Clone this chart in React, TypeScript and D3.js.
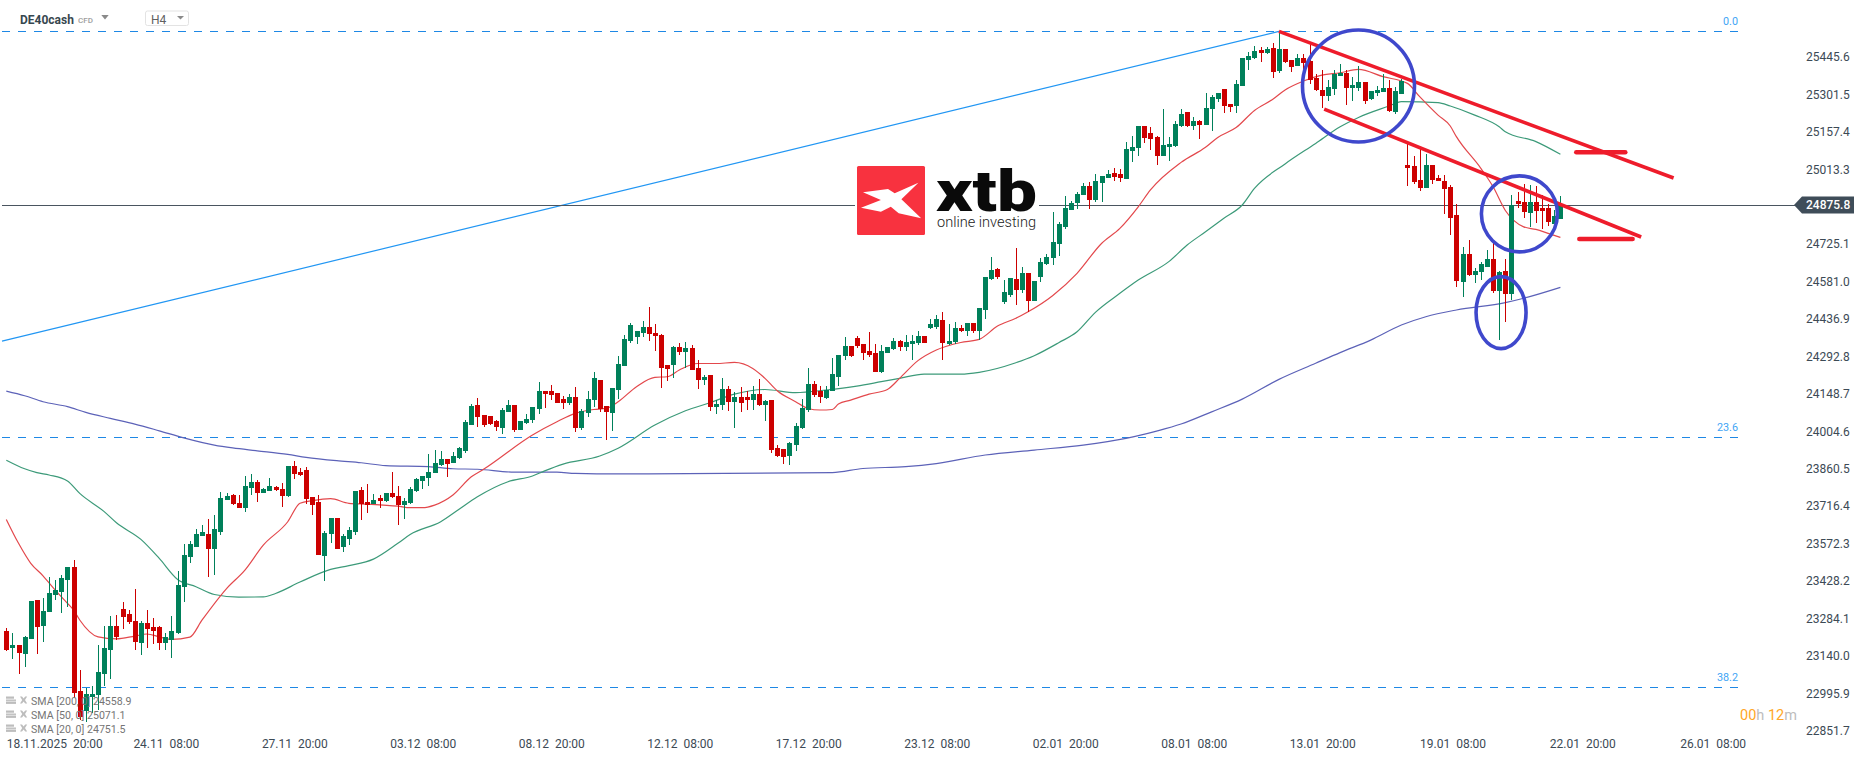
import * as d3 from "d3";
import * as React from "react";

const WIDTH = 1866;
const HEIGHT = 761;

const FONT = "Roboto, sans-serif";
const UP = "#00805a";
const DOWN = "#cc0000";
const FIB_BLUE = "#1e88e5";
const TEXT = "#3c4a55";

// H4 candles
const opens = [
  23236,23172,23182,23148,23205,23356,23256,23309,23375,23386,
  23433,23483,23005,22928,22982,22990,23071,23163,23256,23321,
  23302,23275,23190,23267,23252,23252,23190,23202,23229,23406,
  23521,23560,23602,23610,23552,23617,23741,23760,23729,23710,
  23787,23810,23767,23775,23791,23783,23756,23871,23848,23856,
  23752,23733,23525,23610,23671,23560,23590,23617,23779,23733,
  23725,23748,23737,23767,23756,23721,23729,23775,23814,23825,
  23844,23875,23898,23883,23902,23929,24029,24106,24068,24064,
  24045,24018,24079,24106,24010,24037,24048,24091,24160,24160,
  24152,24129,24114,24137,24018,24075,24125,24202,24102,24075,
  24164,24256,24352,24368,24383,24406,24383,24376,24260,24260,
  24329,24310,24326,24249,24202,24222,24098,24106,24168,24118,
  24137,24137,24125,24148,24106,24125,23941,23937,23910,23952,
  24018,24087,24187,24160,24133,24160,24214,24295,24333,24364,
  24341,24314,24306,24233,24306,24322,24352,24329,24341,24345,
  24372,24402,24406,24433,24341,24349,24402,24391,24422,24391,
  24472,24591,24630,24502,24529,24591,24549,24614,24506,24599,
  24649,24672,24726,24791,24857,24884,24914,24949,24895,24961,
  24980,24999,24995,24976,25084,25095,25180,25153,25138,25065,
  25099,25103,25180,25234,25180,25199,25184,25245,25284,25322,
  25265,25257,25334,25434,25442,25473,25461,25480,25392,25476,
  25434,25411,25442,25430,25365,25319,25295,25322,25372,25384,
  25326,25326,25349,25284,25307,25311,25326,25234,25303,25030,
  25026,24972,24941,25030,24980,24968,24945,24837,24580,24687,
  24606,24618,24637,24668,24545,24622,24533,24891,24887,24845,
  24887,24864,24864,24803,24822,
];

const closes = [
  23163,23182,23152,23213,23352,23252,23313,23383,23394,23440,
  23483,22998,22904,22994,22994,23079,23171,23256,23213,23290,
  23271,23194,23267,23244,23236,23190,23213,23236,23413,23529,
  23571,23610,23617,23552,23629,23748,23756,23725,23710,23794,
  23810,23767,23783,23794,23779,23756,23871,23841,23837,23744,
  23721,23529,23613,23671,23552,23602,23625,23775,23725,23723,
  23741,23737,23767,23752,23721,23737,23783,23821,23833,23848,
  23883,23898,23879,23910,23941,24041,24102,24060,24029,24033,
  24021,24087,24106,24010,24045,24052,24098,24160,24148,24145,
  24114,24114,24137,24018,24083,24129,24210,24091,24079,24172,
  24264,24360,24414,24391,24406,24379,24372,24249,24245,24329,
  24310,24326,24241,24202,24214,24098,24110,24168,24118,24137,
  24114,24125,24148,24106,24121,23933,23910,23906,23960,24025,
  24094,24187,24145,24137,24164,24225,24299,24333,24295,24333,
  24306,24299,24233,24314,24329,24352,24329,24349,24352,24372,
  24345,24418,24437,24345,24352,24402,24391,24422,24391,24479,
  24599,24626,24599,24541,24595,24549,24614,24506,24583,24656,
  24676,24733,24803,24864,24884,24918,24949,24895,24968,24988,
  24995,24984,24980,25091,25099,25180,25134,25130,25065,25107,
  25111,25188,25226,25180,25199,25184,25249,25292,25307,25257,
  25253,25342,25442,25449,25469,25461,25476,25388,25476,25426,
  25407,25442,25422,25357,25319,25295,25330,25380,25384,25326,
  25338,25349,25276,25315,25319,25326,25238,25315,25353,25018,
  24964,24941,25030,24972,24968,24937,24826,24583,24687,24606,
  24622,24649,24668,24545,24618,24533,24876,24880,24849,24887,
  24853,24853,24810,24834,24876,
];

const highs = [
  23250,23227,23182,23218,23352,23356,23362,23445,23433,23452,
  23484,23510,23086,23016,23025,23182,23256,23294,23298,23348,
  23317,23398,23275,23317,23286,23256,23227,23294,23467,23571,
  23581,23629,23644,23666,23683,23771,23769,23764,23760,23833,
  23841,23818,23786,23825,23794,23806,23871,23891,23864,23867,
  23752,23760,23621,23671,23671,23610,23637,23775,23789,23802,
  23764,23760,23767,23848,23794,23747,23791,23825,23833,23918,
  23933,23929,23898,23925,23945,24048,24110,24133,24068,24064,
  24048,24095,24125,24106,24045,24072,24098,24195,24160,24183,
  24152,24141,24148,24175,24091,24160,24233,24202,24102,24172,
  24295,24376,24422,24391,24429,24483,24418,24379,24260,24333,
  24345,24349,24337,24279,24222,24222,24125,24210,24179,24156,
  24175,24160,24179,24206,24125,24125,23952,23937,23964,24037,
  24129,24248,24198,24179,24179,24287,24299,24368,24333,24372,
  24341,24387,24341,24337,24329,24364,24356,24375,24375,24391,
  24372,24437,24452,24464,24418,24425,24414,24422,24422,24479,
  24599,24676,24633,24587,24595,24710,24637,24614,24583,24672,
  24687,24849,24810,24911,24891,24926,24961,24964,24995,24988,
  25011,25018,25014,25118,25142,25180,25180,25176,25142,25245,
  25138,25199,25245,25234,25215,25203,25307,25299,25307,25322,
  25265,25357,25442,25465,25488,25484,25484,25499,25542,25476,
  25434,25457,25457,25496,25380,25396,25357,25396,25419,25396,
  25369,25411,25349,25315,25334,25380,25357,25330,25361,25114,
  25065,25091,25072,25030,24991,24991,24953,24880,24714,24741,
  24633,24656,24703,24728,24622,24668,24914,24926,24957,24953,
  24949,24914,24880,24857,24911,
];

const lows = [
  23159,23130,23071,23098,23205,23148,23194,23309,23356,23307,
  23330,22977,22894,22887,22922,22932,23025,23052,23202,23244,
  23263,23163,23144,23170,23186,23163,23163,23134,23225,23348,
  23498,23560,23601,23444,23452,23606,23741,23721,23710,23694,
  23760,23733,23767,23775,23775,23714,23751,23821,23833,23725,
  23683,23529,23429,23575,23552,23540,23567,23606,23664,23690,
  23725,23710,23733,23748,23644,23667,23725,23771,23783,23794,
  23844,23871,23829,23882,23898,23921,24029,24021,24021,24029,
  24006,23995,24079,24002,24010,24033,24037,24072,24095,24125,
  24114,24091,24106,24002,24010,24060,24098,24079,23971,24006,
  24129,24256,24345,24341,24368,24352,24314,24172,24199,24210,
  24299,24249,24241,24168,24183,24083,24072,24087,24084,24019,
  24080,24087,24087,24102,24044,23923,23906,23879,23875,23929,
  24014,24079,24137,24114,24129,24160,24179,24279,24291,24325,
  24279,24291,24233,24229,24306,24318,24314,24314,24279,24337,
  24345,24398,24398,24279,24337,24341,24387,24372,24383,24356,
  24437,24587,24591,24495,24522,24491,24537,24464,24506,24580,
  24645,24645,24680,24784,24857,24860,24914,24860,24887,24887,
  24980,24968,24964,24976,25041,25065,25115,25088,25030,25065,
  25045,25099,25176,25176,25165,25130,25184,25161,25272,25230,
  25234,25230,25334,25396,25438,25426,25457,25365,25384,25422,
  25388,25411,25396,25342,25315,25249,25276,25299,25372,25261,
  25276,25315,25265,25280,25295,25311,25234,25226,25303,24949,
  24957,24930,24941,24957,24968,24841,24760,24560,24522,24603,
  24576,24587,24637,24537,24356,24425,24510,24864,24826,24791,
  24807,24784,24795,24803,24822,
];

// moving averages, sampled where the line bends: candle number, then level
const sma20At = [0,2,4,6,8,10,11,12,15,18,21,23,25,27,30,32,36,39,42,46,48,50,53,56,59,64,66,68,70,73,76,78,86,90,93,96,98,100,103,106,108,110,113,116,119,122,124,126,129,131,133,135,136,138,141,144,146,149,152,156,159,162,165,167,171,175,179,182,185,187,192,196,198,201,204,207,209,212,215,218,221,225,229,231,234,236,237,241,243,245,248,250,252,254];
const sma20 = [23666,23574,23497,23449,23394,23343,23317,23279,23214,23206,23217,23225,23214,23204,23213,23279,23400,23471,23567,23657,23728,23738,23746,23728,23725,23717,23711,23711,23721,23760,23830,23859,23991,24042,24074,24089,24093,24119,24177,24213,24215,24241,24266,24266,24270,24247,24209,24161,24119,24093,24087,24089,24110,24125,24148,24166,24209,24277,24318,24347,24359,24410,24440,24465,24527,24613,24728,24786,24869,24934,25040,25098,25136,25174,25240,25283,25319,25353,25376,25385,25398,25370,25344,25293,25222,25180,25139,25017,24946,24855,24792,24782,24767,24751.5];

const sma50At = [0,3,5,7,10,12,16,18,22,25,28,31,34,38,42,44,48,53,56,60,64,66,71,74,77,82,86,88,91,97,100,106,111,115,119,124,129,134,139,143,146,150,156,159,165,168,172,175,178,182,185,190,193,196,199,202,204,209,214,218,221,226,228,234,236,240,244,245,250,254];
const sma50 = [23894,23861,23846,23837,23814,23766,23696,23653,23589,23516,23435,23407,23377,23367,23368,23381,23425,23474,23488,23513,23574,23608,23657,23705,23753,23811,23833,23853,23879,23910,23940,24029,24084,24115,24148,24166,24154,24164,24179,24196,24209,24225,24225,24232,24269,24296,24346,24388,24463,24536,24587,24658,24722,24773,24825,24876,24940,25034,25113,25177,25213,25257,25274,25270,25257,25222,25177,25158,25120,25071.1];

const sma200At = [0,3,6,10,13,17,21,25,29,34,37,41,46,49,54,58,62,69,73,77,83,90,93,100,135,140,147,152,160,168,176,183,188,192,197,202,208,214,218,223,228,232,237,245,248,254];
const sma200 = [24160,24142,24119,24100,24078,24055,24033,24007,23980,23952,23941,23930,23916,23905,23892,23884,23873,23869,23861,23859,23848,23848,23843,23841,23846,23862,23869,23881,23914,23933,23952,23978,24006,24033,24080,24129,24205,24267,24308,24356,24414,24446,24472,24500,24517,24558.9];

const priceTicks = ["25445.6","25301.5","25157.4","25013.3","24725.1","24581.0","24436.9","24292.8","24148.7","24004.6","23860.5","23716.4","23572.3","23428.2","23284.1","23140.0","22995.9","22851.7"];

const timeTickAt = [26,47,68,89,110,131,152,173,194,215,236.3,257.5,278.8];
const timeLabels = ["24.11  08:00","27.11  20:00","03.12  08:00","08.12  20:00","12.12  08:00","17.12  20:00","23.12  08:00","02.01  20:00","08.01  08:00","13.01  20:00","19.01  08:00","22.01  20:00","26.01  08:00"];

const fibLabels = ["0.0","23.6","38.2"];
const fibLevels = [25543.7,23981.8,23019.6];

const LAST_PRICE = 24875.8;
const legendRows = ["SMA [200, 0] 24558.9","SMA [50, 0] 25071.1","SMA [20, 0] 24751.5"];

// x runs in candle numbers, y in index points
const xScale = d3.scaleLinear().domain([0, 254]).range([6.3, 1560.4]);
const yScale = d3.scaleLinear().domain([25445.6, 22851.7]).range([57, 731]);

// drawings on the chart: [candle, price] pairs
const fibDiagonal = [[-0.7, 24352],[208, 25544]];
const trendLines = [
  [[208, 25544],[272.5, 24980]],
  [[215.4, 25245],[267.2, 24753]],
  [[256.6, 25079],[264.6, 25079]],
  [[257.1, 24745],[265.8, 24745]],
];
const circles = [
  { at: 221, price: 25334, rx: 56, ry: 56 },
  { at: 247.3, price: 24842, rx: 38, ry: 38 },
  { at: 244.3, price: 24462, rx: 25, ry: 36 },
];

function smaPath(at: number[], values: number[]) {
  const line = d3
    .line<number>()
    .x((d) => xScale(d))
    .y((_, i) => yScale(values[i]))
    .curve(d3.curveMonotoneX);
  return line(at) || "";
}

function Candles() {
  return (
    <g shapeRendering="crispEdges">
      {opens.map((open, i) => {
        const close = closes[i];
        const color = close >= open ? UP : DOWN;
        const x = Math.round(xScale(i));
        const top = yScale(Math.max(open, close));
        const bottom = yScale(Math.min(open, close));
        return (
          <g key={i} fill={color}>
            <rect x={x} y={yScale(highs[i])} width={1} height={yScale(lows[i]) - yScale(highs[i])} />
            <rect x={x - 2} y={top} width={5} height={Math.max(1, bottom - top)} />
          </g>
        );
      })}
    </g>
  );
}

function Logo() {
  return (
    <g>
      <rect x={855} y={164} width={184} height={74} fill="#fff" />
      <rect x={857} y={166} width={68} height={69} rx={1.5} fill="#f8323f" />
      <polygon
        fill="#fff"
        points="863,192.3 888,189 894.7,193.3 918.4,182.7 901.4,199.3 921.2,218.3 898.7,213.3 890.8,206.7 880.9,211.7 861,207.7 880.9,200"
      />
      <text x={936} y={211} fontFamily={FONT} fontWeight={900} fontSize={57} fill="#0a0a0a" textLength={101} lengthAdjust="spacingAndGlyphs">
        xtb
      </text>
      <text x={937} y={227} fontFamily={FONT} fontWeight={300} fontSize={15} fill="#222" textLength={99} lengthAdjust="spacingAndGlyphs">
        online investing
      </text>
    </g>
  );
}

function LegendIcon({ y }: { y: number }) {
  return (
    <g fill="#bdbdbd">
      <rect x={6} y={y - 5} width={8} height={2.2} />
      <rect x={6} y={y - 2} width={10} height={1.4} />
      <rect x={6} y={y} width={10} height={2.4} />
      <path
        d={`M20 ${y - 5}L22 ${y - 5}L23.6 ${y - 3}L25.2 ${y - 5}L27.2 ${y - 5}L25 ${y - 1.5}L27.2 ${y + 2}L25.2 ${y + 2}L23.6 ${y}L22 ${y + 2}L20 ${y + 2}L22.2 ${y - 1.5}Z`}
      />
    </g>
  );
}

export default function App() {
  const lastY = yScale(LAST_PRICE);
  return (
    <svg
      width={WIDTH}
      height={HEIGHT}
      viewBox={`0 0 ${WIDTH} ${HEIGHT}`}
      style={{ position: "fixed", left: 0, top: 0, background: "#fff" }}
    >
      {/* header */}
      <text x={20} y={23.5} fontFamily={FONT} fontWeight={700} fontSize={12} fill="#37474f">
        DE40cash
      </text>
      <text x={78} y={22.5} fontFamily={FONT} fontWeight={500} fontSize={8} fill="#9e9e9e">
        CFD
      </text>
      <polygon points="101.3,15 108.7,15 105,19.5" fill="#8a8a8a" />
      <rect x={145.5} y={11} width={43} height={14.5} rx={2} fill="#fff" stroke="#e3e3e3" />
      <text x={151} y={24} fontFamily={FONT} fontSize={12} fill="#616161">
        H4
      </text>
      <polygon points="177,16 184,16 180.5,19.5" fill="#8a8a8a" />

      {/* fibonacci */}
      {fibLevels.map((level, i) => (
        <g key={level}>
          <line
            x1={2}
            x2={1739}
            y1={yScale(level)}
            y2={yScale(level)}
            stroke={FIB_BLUE}
            strokeWidth={1}
            strokeDasharray="8 8"
            shapeRendering="crispEdges"
          />
          <text x={1738} y={yScale(level) - 9.5} textAnchor="end" dominantBaseline="middle" fontFamily={FONT} fontSize={10.8} fill="#42a5f5">
            {fibLabels[i]}
          </text>
        </g>
      ))}
      <line
        x1={xScale(fibDiagonal[0][0])}
        y1={yScale(fibDiagonal[0][1])}
        x2={xScale(fibDiagonal[1][0])}
        y2={yScale(fibDiagonal[1][1])}
        stroke="#2196f3"
        strokeWidth={1.2}
      />

      {/* last price */}
      <line x1={2} x2={1795} y1={lastY} y2={lastY} stroke="#4a5560" strokeWidth={1} shapeRendering="crispEdges" />

      <path d={smaPath(sma200At, sma200)} fill="none" stroke="#5c62b8" strokeWidth={1.2} />
      <path d={smaPath(sma50At, sma50)} fill="none" stroke="#3c9a79" strokeWidth={1.2} />
      <path d={smaPath(sma20At, sma20)} fill="none" stroke="#e3484c" strokeWidth={1.2} />

      <Candles />
      <Logo />

      {/* drawings */}
      {trendLines.map((d, i) => (
        <line
          key={i}
          x1={xScale(d[0][0])}
          y1={yScale(d[0][1])}
          x2={xScale(d[1][0])}
          y2={yScale(d[1][1])}
          stroke="#ee1c2b"
          strokeWidth={i < 2 ? 3.6 : 4.6}
          strokeLinecap={i < 2 ? "butt" : "round"}
        />
      ))}
      {circles.map((d, i) => (
        <ellipse key={i} cx={xScale(d.at)} cy={yScale(d.price)} rx={d.rx} ry={d.ry} fill="none" stroke="#3f48cc" strokeWidth={3.6} />
      ))}

      {/* price axis */}
      {priceTicks.map((t) => (
        <text key={t} x={1806} y={yScale(+t) + 1} dominantBaseline="middle" fontFamily={FONT} fontSize={12} fill={TEXT}>
          {t}
        </text>
      ))}
      <polygon
        points={`1794,${lastY} 1802,${lastY - 8.5} 1854,${lastY - 8.5} 1854,${lastY + 8.5} 1802,${lastY + 8.5}`}
        fill="#3f4d59"
      />
      <text x={1806} y={lastY + 1} dominantBaseline="middle" fontFamily={FONT} fontSize={12} fontWeight={500} fill="#fff">
        {LAST_PRICE.toFixed(1)}
      </text>

      {/* time axis */}
      <text x={6.7} y={745} dominantBaseline="middle" fontFamily={FONT} fontSize={12} fill={TEXT} style={{ whiteSpace: "pre" }}>
        {"18.11.2025  20:00"}
      </text>
      {timeLabels.map((t, i) => (
        <text
          key={t}
          x={xScale(timeTickAt[i]) + 1}
          y={745}
          textAnchor="middle"
          dominantBaseline="middle"
          fontFamily={FONT}
          fontSize={12}
          fill={TEXT}
          style={{ whiteSpace: "pre" }}
        >
          {t}
        </text>
      ))}

      {/* indicator legend */}
      {legendRows.map((t, i) => (
        <g key={t}>
          <LegendIcon y={701.5 + i * 14} />
          <text x={31} y={702 + i * 14} dominantBaseline="middle" fontFamily={FONT} fontSize={10.6} fill="#757575">
            {t}
          </text>
        </g>
      ))}

      {/* candle countdown */}
      <text x={1740} y={716} dominantBaseline="middle" fontFamily={FONT} fontSize={14.5}>
        <tspan fill="#ffa726">00</tspan>
        <tspan fill="#bdbdbd">h </tspan>
        <tspan fill="#ffa726">12</tspan>
        <tspan fill="#bdbdbd">m</tspan>
      </text>
    </svg>
  );
}
